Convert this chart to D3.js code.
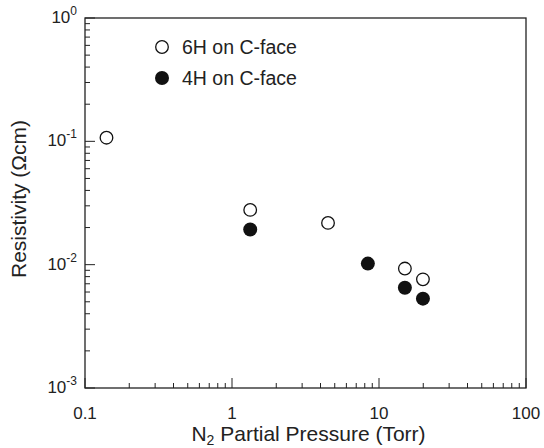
<!DOCTYPE html>
<html>
<head>
<meta charset="utf-8">
<script src="https://cdn.jsdelivr.net/npm/d3@7"></script>
<style>
  body { margin: 0; background: #fff; }
  text { font-family: "Liberation Sans", Arial, Helvetica, sans-serif; fill: #222; }
</style>
</head>
<body>
<script>
// resistivity vs N2 partial pressure, log-log scatter

// 6H on C-face (open circles)
var pressure6H = [0.14, 1.33, 4.5, 15.0, 19.9]
var resist6H = [0.107, 0.0278, 0.0218, 0.0093, 0.0076]
// 4H on C-face (filled circles)
var pressure4H = [1.33, 8.4, 15.0, 19.9]
var resist4H = [0.0193, 0.0102, 0.0065, 0.0053]

var seriesNames = ['6H on C-face', '4H on C-face']
var xTickValues = [0.1, 1, 10, 100]
var xTickLabels = ['0.1', '1', '10', '100']
var yTickValues = [1e-3, 1e-2, 1e-1, 1]
var yTickExps = ['-3', '-2', '-1', '0']

var width = 544
var height = 448
var margin = { top: 18, right: 18, bottom: 60, left: 85 }

var x = d3.scaleLog().domain([0.1, 100]).range([margin.left, width - margin.right])
var y = d3.scaleLog().domain([1e-3, 1]).range([height - margin.bottom, margin.top])

var svg = d3.select('body').append('svg')
  .attr('width', width)
  .attr('height', height)

// minor ticks for each decade
function minorTicks (lo, hi) {
  var out = []
  for (var e = Math.log10(lo); e < Math.log10(hi); e++) {
    for (var k = 2; k <= 9; k++) out.push(k * Math.pow(10, e))
  }
  return out
}

var x0 = margin.left
var x1 = width - margin.right
var y0 = height - margin.bottom
var y1 = margin.top

// inward ticks on bottom and left
var xMinor = minorTicks(0.1, 100)
svg.append('g').selectAll('line.xminor')
  .data(xMinor).enter().append('line')
  .attr('x1', d => x(d)).attr('x2', d => x(d))
  .attr('y1', y0).attr('y2', y0 - 5)
  .attr('stroke', '#222').attr('stroke-width', 1)
svg.append('g').selectAll('line.xmajor')
  .data(xTickValues).enter().append('line')
  .attr('x1', d => x(d)).attr('x2', d => x(d))
  .attr('y1', y0).attr('y2', y0 - 10)
  .attr('stroke', '#222').attr('stroke-width', 1)

var yMinor = minorTicks(1e-3, 1)
svg.append('g').selectAll('line.yminor')
  .data(yMinor).enter().append('line')
  .attr('x1', x0).attr('x2', x0 + 5)
  .attr('y1', d => y(d)).attr('y2', d => y(d))
  .attr('stroke', '#222').attr('stroke-width', 1)
svg.append('g').selectAll('line.ymajor')
  .data(yTickValues).enter().append('line')
  .attr('x1', x0).attr('x2', x0 + 10)
  .attr('y1', d => y(d)).attr('y2', d => y(d))
  .attr('stroke', '#222').attr('stroke-width', 1)

// frame
svg.append('rect')
  .attr('x', x0).attr('y', y1)
  .attr('width', x1 - x0).attr('height', y0 - y1)
  .attr('fill', 'none').attr('stroke', '#222').attr('stroke-width', 1.3)

// x tick labels
svg.append('g').selectAll('text')
  .data(xTickValues).enter().append('text')
  .attr('x', d => x(d))
  .attr('y', y0 + 31)
  .attr('text-anchor', 'middle')
  .style('font-size', '17px')
  .text((d, i) => xTickLabels[i])

// y tick labels, 10 with superscript exponent
var yl = svg.append('g').selectAll('text')
  .data(yTickValues).enter().append('text')
  .attr('x', x0 - 8)
  .attr('y', d => y(d) + 5)
  .attr('text-anchor', 'end')
  .style('font-size', '17px')
yl.append('tspan').text('10')
yl.append('tspan')
  .attr('dy', -8)
  .style('font-size', '12px')
  .text((d, i) => yTickExps[i])

// axis titles
var xt = svg.append('text')
  .attr('x', (x0 + x1) / 2 + 3)
  .attr('y', 441)
  .attr('text-anchor', 'middle')
  .style('font-size', '21px')
xt.append('tspan').text('N')
xt.append('tspan').attr('dy', 4).style('font-size', '14px').text('2')
xt.append('tspan').attr('dy', -4).text(' Partial Pressure (Torr)')

svg.append('text')
  .attr('transform', 'translate(26,' + ((y0 + y1) / 2 - 4) + ') rotate(-90)')
  .attr('text-anchor', 'middle')
  .style('font-size', '21px')
  .text('Resistivity (\u03A9cm)')

// data points
var pts6H = pressure6H.map((p, i) => ({ p: p, r: resist6H[i] }))
var pts4H = pressure4H.map((p, i) => ({ p: p, r: resist4H[i] }))

svg.append('g').selectAll('circle')
  .data(pts6H).enter().append('circle')
  .attr('cx', d => x(d.p))
  .attr('cy', d => y(d.r))
  .attr('r', 6.3)
  .attr('fill', '#fff')
  .attr('stroke', '#111')
  .attr('stroke-width', 1.3)

svg.append('g').selectAll('circle')
  .data(pts4H).enter().append('circle')
  .attr('cx', d => x(d.p))
  .attr('cy', d => y(d.r))
  .attr('r', 7)
  .attr('fill', '#111')

// legend
var legend = svg.append('g')
legend.append('circle')
  .attr('cx', 162).attr('cy', 47).attr('r', 6.3)
  .attr('fill', '#fff').attr('stroke', '#111').attr('stroke-width', 1.3)
legend.append('circle')
  .attr('cx', 162).attr('cy', 78).attr('r', 7)
  .attr('fill', '#111')
legend.selectAll('text')
  .data(seriesNames).enter().append('text')
  .attr('x', 182)
  .attr('y', (d, i) => 54 + i * 31)
  .style('font-size', '19.5px')
  .text(d => d)
</script>
</body>
</html>
